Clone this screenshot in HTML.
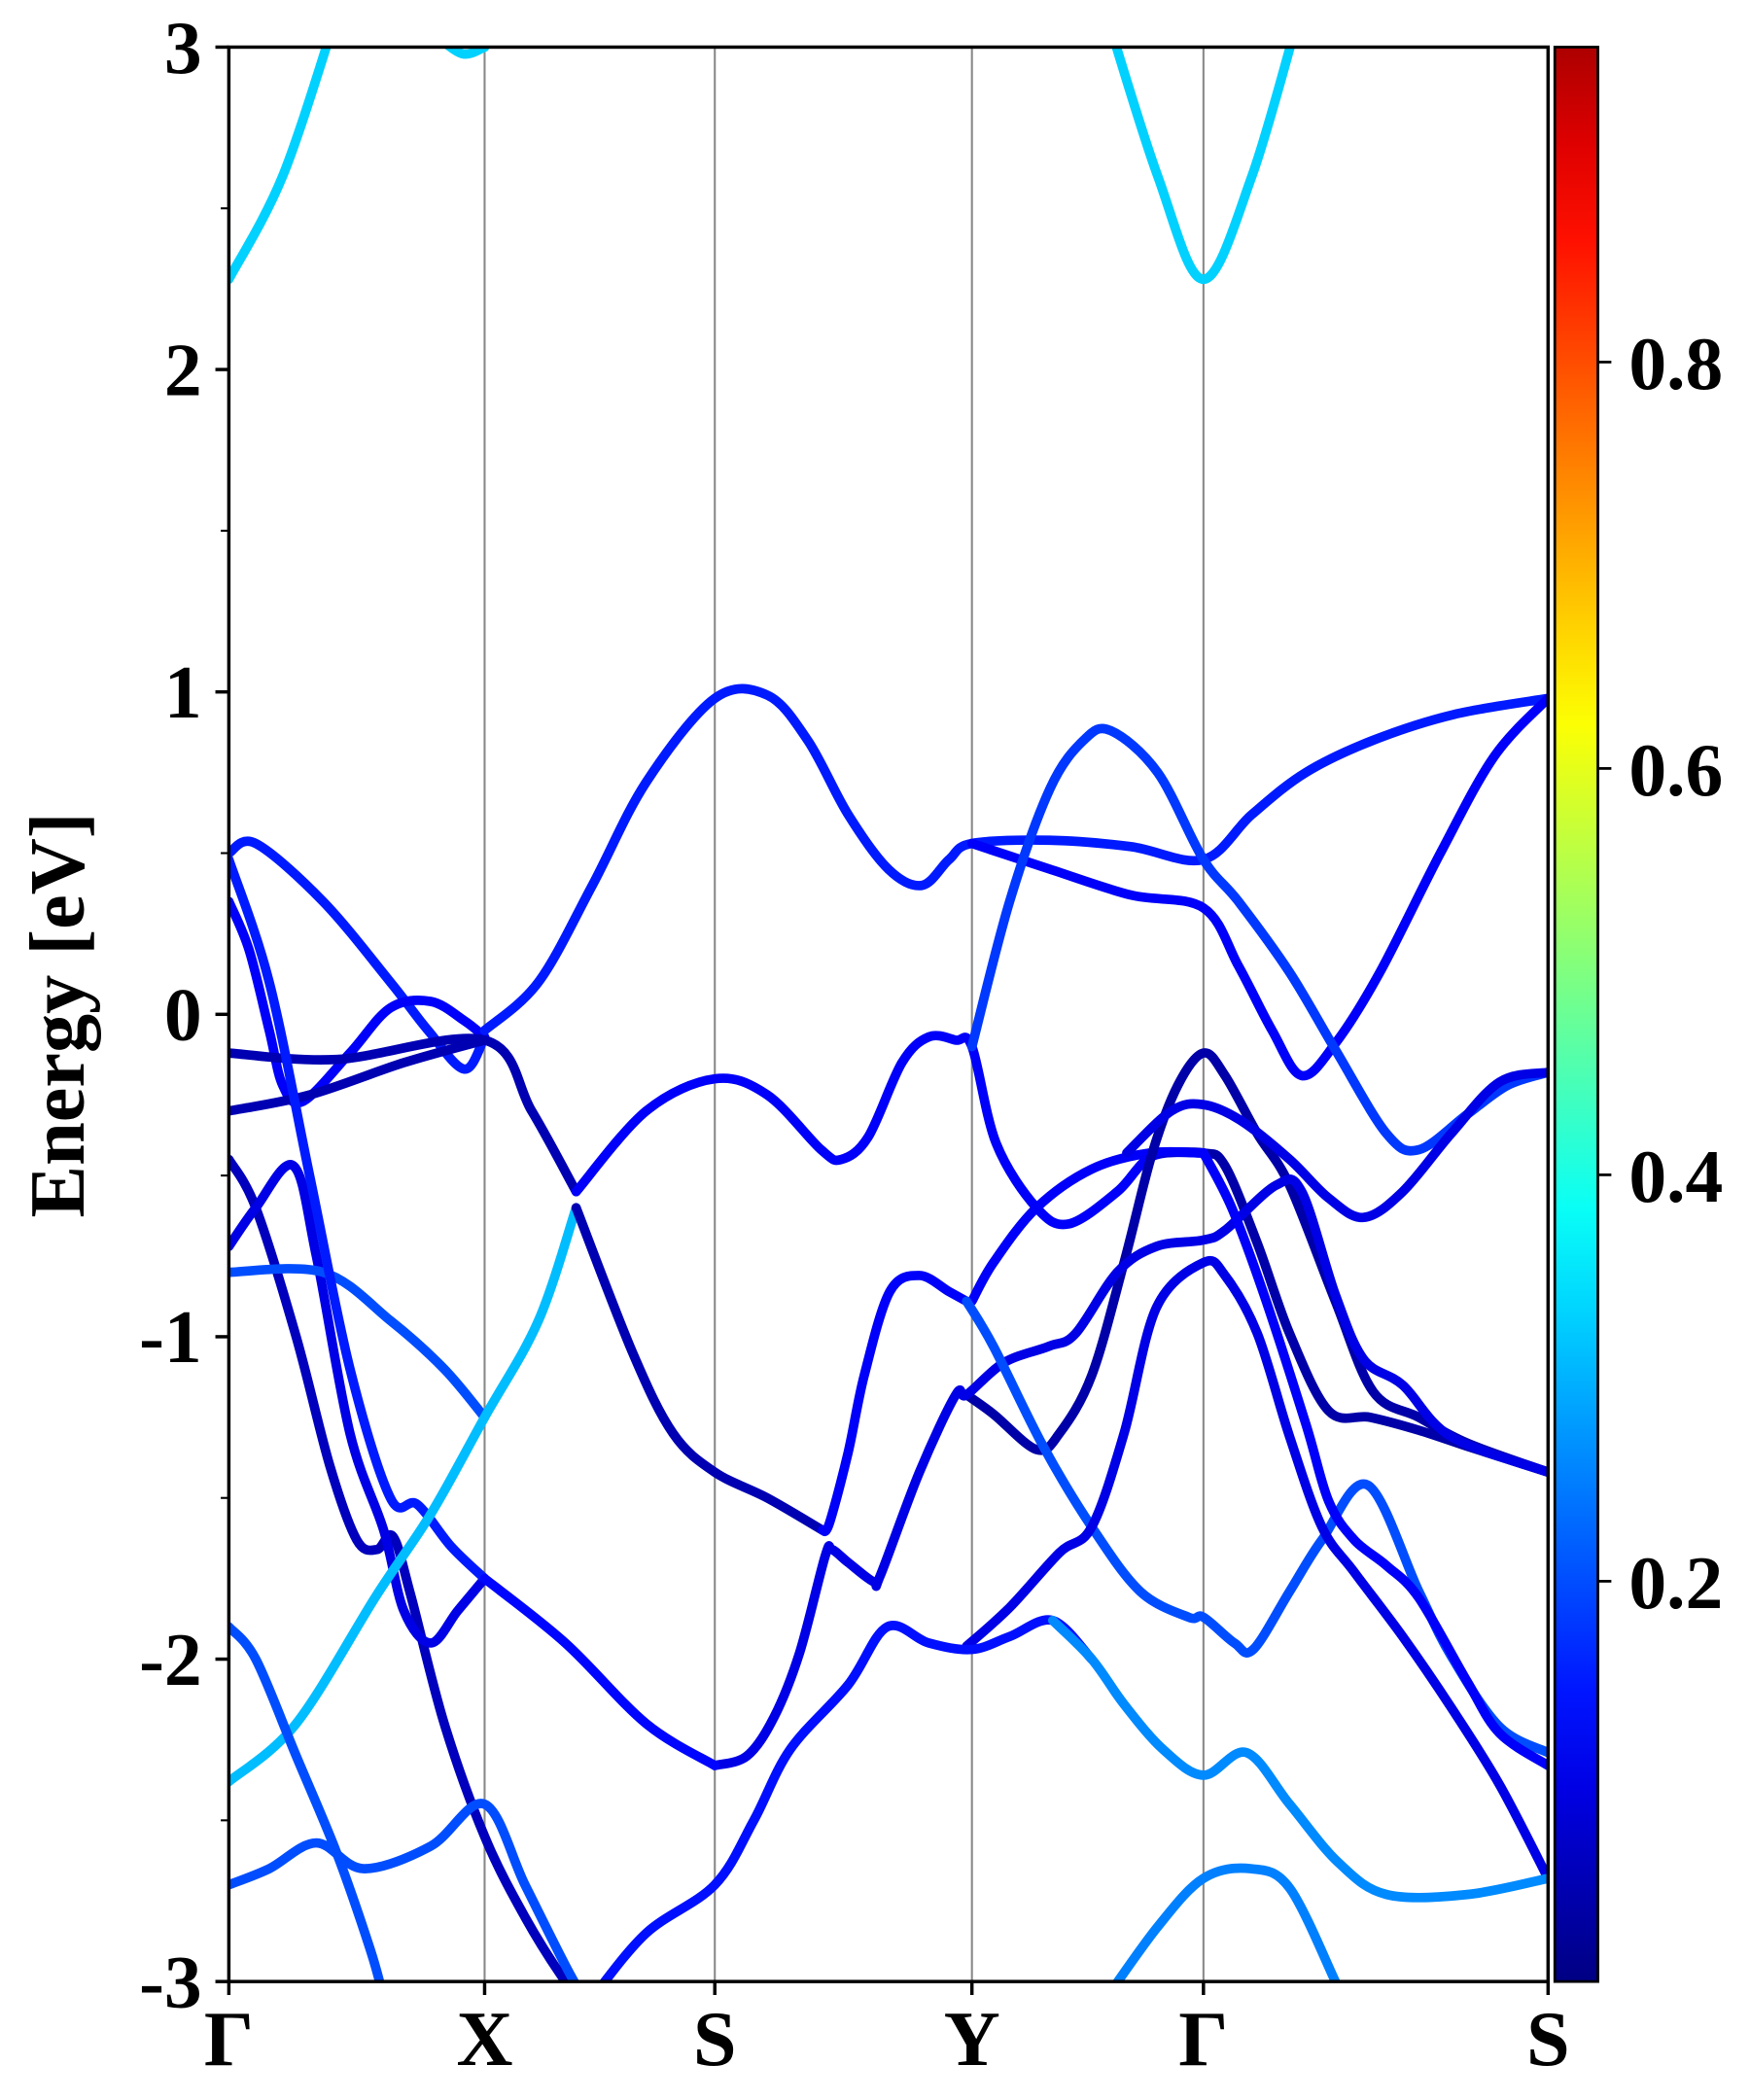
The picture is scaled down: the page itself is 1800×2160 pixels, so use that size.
<!DOCTYPE html>
<html><head><meta charset="utf-8"><style>
html,body{margin:0;padding:0;background:#fff;}
svg{display:block;}
text{font-family:"Liberation Serif",serif;font-weight:bold;fill:#000;}
</style></head><body>
<svg id="chart" width="1800" height="2160" viewBox="0 0 1300 1560" xmlns="http://www.w3.org/2000/svg">
<defs><linearGradient id="cbgrad" x1="0" y1="1" x2="0" y2="0"></linearGradient>
<clipPath id="plotclip"><rect x="170" y="35" width="980" height="1437"/></clipPath></defs>
<g id="grid"></g>
<g id="bands" clip-path="url(#plotclip)"></g>
<rect x="170" y="35" width="980" height="1437" fill="none" stroke="#000" stroke-width="2.5"/>
<g id="axes"></g>
<rect x="1155" y="35" width="32" height="1437" fill="url(#cbgrad)" stroke="#000" stroke-width="2"/>
<text transform="translate(62,754) rotate(-90)" text-anchor="middle" font-size="58">Energy [eV]</text>
</svg>
<script>
const kLabels=["Γ","X","S","Y","Γ","S"];
const kTicks=[0,190,361,552,724,980];
const eTicks=[-3,-2,-1,0,1,2,3];
const cbTicks=[0.2,0.4,0.6,0.8];
const bandValues=[0.15,0.12,0.05,0.05,0.06,0.1,0.2,0.15,0.31,0.2,0.2,0.05,
 0.15,0.12,0.12,0.18,0.04,0.12,0.04,0.1,0.1,0.12,0.2,0.1,0.12,0.14,0.26,0.25,0.13,
 0.33,0.33,0.33];
const bandK=[
[0,20,70,120,148,175,190],
[0,15,30,40,55,90,120,150,175,190],
[0,80,190,225,258],
[0,60,130,190],
[0,20,50,75,95,110,122,135,160,190,220,250,270],
[0,20,48,65,90,115,130,150,170,190],
[0,70,120,160,190],
[0,30,60,90,120,140,165,190],
[0,50,110,150,190,230,258],
[0,20,50,80,105,115],
[0,30,65,100,150,190,220,250,270],
[258,300,330,361,400,441],
[190,230,270,310,361,400,430,460,490,515,535,552,610,670,724,760,800,850,910,980],
[552,610,670,724,750,775,797,822,855,900,940,980],
[258,310,361,400,440,455,475,500,520,540,552,570,600,624,660,686,724],
[552,580,610,635,655,690,724,750,788,822,860,884,920,950,980],
[686,724,740,764,788,817,848,884,920,950,980],
[552,568,600,641,684,724],
[548,568,600,617,641,665,686,705,724,740,764,788,822,850,884,920,980],
[667,700,724,752,788,817,843,872,908,944,980],
[361,385,405,424,443,448,460,479,484,513,540,548,576,609,629,660,689,724,740,778,797,822,843,872,908,980],
[441,446,460,472,491,513,535,548],
[548,568,605,641,677,713,724,747,761,788,812,846,884,908,944,980],
[548,580,617,641,665,689,724,740,764,788,812,836,872,908,944,980],
[724,745,769,800,817,836,860,884,920,944,980],
[270,310,361,390,417,460,489,520,552,580,612,641],
[612,641,665,694,724,756,788,824,860,920,980],
[652,690,724,759,788,822],
[190,250,310,361],
[0,40,80],
[150,173,190],
[652,690,724,760,795]
];
const bandE=[
[0.5,0.53,0.35,0.1,-0.05,-0.17,-0.07],
[0.35,0.2,-0.05,-0.22,-0.27,-0.12,0.02,0.04,-0.02,-0.07],
[-0.12,-0.14,-0.08,-0.3,-0.55],
[-0.3,-0.25,-0.15,-0.08],
[-0.45,-0.6,-1.0,-1.4,-1.63,-1.66,-1.62,-1.8,-2.2,-2.55,-2.8,-3.0,-3.1],
[-0.72,-0.6,-0.47,-0.75,-1.3,-1.6,-1.85,-1.95,-1.85,-1.75],
[-0.8,-0.8,-0.95,-1.1,-1.25],
[0.48,0.1,-0.5,-1.1,-1.5,-1.52,-1.65,-1.75],
[-2.38,-2.2,-1.8,-1.55,-1.25,-0.95,-0.6],
[-1.9,-2.0,-2.3,-2.6,-2.9,-3.05],
[-2.7,-2.65,-2.57,-2.65,-2.58,-2.45,-2.7,-2.95,-3.1],
[-0.6,-1.05,-1.3,-1.42,-1.5,-1.6],
[-0.05,0.1,0.4,0.72,0.98,0.99,0.85,0.62,0.45,0.4,0.48,0.53,0.54,0.52,0.48,0.62,0.75,0.85,0.93,0.98],
[0.53,0.45,0.37,0.33,0.15,-0.05,-0.19,-0.09,0.13,0.5,0.8,0.98],
[-0.55,-0.3,-0.2,-0.25,-0.42,-0.45,-0.38,-0.15,-0.07,-0.08,-0.1,-0.4,-0.6,-0.65,-0.55,-0.44,-0.43],
[-0.1,0.35,0.7,0.85,0.88,0.75,0.48,0.35,0.13,-0.11,-0.37,-0.42,-0.31,-0.22,-0.18],
[-0.43,-0.43,-0.47,-0.71,-0.99,-1.23,-1.25,-1.29,-1.34,-1.38,-1.42],
[-0.89,-0.77,-0.6,-0.48,-0.43,-0.43],
[-1.18,-1.24,-1.35,-1.30,-1.12,-0.77,-0.43,-0.22,-0.12,-0.19,-0.37,-0.53,-0.89,-1.17,-1.25,-1.33,-1.42],
[-0.43,-0.3,-0.28,-0.33,-0.45,-0.57,-0.63,-0.55,-0.37,-0.21,-0.18],
[-2.33,-2.3,-2.18,-1.98,-1.68,-1.66,-1.70,-1.76,-1.74,-1.42,-1.18,-1.18,-1.08,-1.03,-0.99,-0.80,-0.72,-0.70,-0.67,-0.53,-0.55,-0.87,-1.07,-1.15,-1.31,-1.42],
[-1.60,-1.58,-1.36,-1.12,-0.86,-0.81,-0.86,-0.89],
[-0.89,-1.03,-1.34,-1.59,-1.79,-1.87,-1.87,-1.95,-1.97,-1.79,-1.63,-1.46,-1.79,-1.99,-2.21,-2.29],
[-1.96,-1.84,-1.67,-1.59,-1.30,-0.91,-0.77,-0.81,-0.99,-1.31,-1.59,-1.73,-1.93,-2.15,-2.39,-2.68],
[-0.43,-0.6,-0.87,-1.27,-1.51,-1.63,-1.71,-1.81,-2.07,-2.23,-2.33],
[-3.05,-2.85,-2.7,-2.5,-2.28,-2.08,-1.90,-1.95,-1.97,-1.93,-1.88,-2.0],
[-1.88,-2.0,-2.14,-2.28,-2.36,-2.29,-2.45,-2.63,-2.73,-2.73,-2.68],
[-3.05,-2.83,-2.68,-2.65,-2.71,-3.0],
[-1.75,-1.95,-2.2,-2.33],
[2.28,2.6,3.1],
[3.05,2.98,3.0],
[3.1,2.6,2.28,2.6,3.1]
];

const X0=170,W=980,Y0=35,H=1437,EMIN=-3,EMAX=3;
function xs(k){return X0+k/980*W;}
function ys(e){return Y0+(EMAX-e)/(EMAX-EMIN)*H;}
const CB0=0.003,CB1=0.955;
function cbY(v){return Y0+H-(v-CB0)/(CB1-CB0)*H;}
function jet(v){function c(x){return Math.round(255*Math.max(0,Math.min(1,x)));}
 const r=c(1.5-Math.abs(4*v-3)),g=c(1.5-Math.abs(4*v-2)),b=c(1.5-Math.abs(4*v-1));return "rgb("+r+","+g+","+b+")";}
const NS="http://www.w3.org/2000/svg";
function mk(t,a,p){const e=document.createElementNS(NS,t);for(const k in a)e.setAttribute(k,a[k]);p.appendChild(e);return e;}
const gr=document.getElementById('cbgrad');
for(let i=0;i<=20;i++){const f=i/20;const v=CB0+f*(CB1-CB0);mk('stop',{offset:f,'stop-color':jet(v)},gr);}
const grid=document.getElementById('grid');
kTicks.slice(1,5).forEach(function(k){const l=mk('line',{x1:xs(k),x2:xs(k),y1:Y0,y2:Y0+H,stroke:'#888','stroke-width':1.5},grid);

});
const bg=document.getElementById('bands');
function spline(pts){let d="M"+pts[0][0]+","+pts[0][1];
 for(let i=0;i<pts.length-1;i++){const p0=pts[Math.max(0,i-1)],p1=pts[i],p2=pts[i+1],p3=pts[Math.min(pts.length-1,i+2)];
 const t=1/6;d+=" C"+(p1[0]+(p2[0]-p0[0])*t)+","+(p1[1]+(p2[1]-p0[1])*t)+" "+(p2[0]-(p3[0]-p1[0])*t)+","+(p2[1]-(p3[1]-p1[1])*t)+" "+p2[0]+","+p2[1];}
 return d;}
for(let b=0;b<bandK.length;b++){const n=Math.min(bandK[b].length,bandE[b].length);const pts=[];
 for(let i=0;i<n;i++)pts.push([xs(bandK[b][i]),ys(bandE[b][i])]);
 const p=mk('path',{d:spline(pts),fill:'none',stroke:jet(bandValues[b]),'stroke-width':7,'stroke-linecap':'round','stroke-linejoin':'round'},bg);
 
 }
const ax=document.getElementById('axes');
eTicks.forEach(function(e){mk('line',{x1:X0,x2:X0-10,y1:ys(e),y2:ys(e),stroke:'#000','stroke-width':2.5},ax);
 const t=mk('text',{x:X0-20,y:ys(e)+19,'text-anchor':'end','font-size':56},ax);t.textContent=String(e);
 
 });
for(let e=-2.5;e<3;e+=1){mk('line',{x1:X0,x2:X0-6,y1:ys(e),y2:ys(e),stroke:'#000','stroke-width':1.5},ax);}
kTicks.forEach(function(k,i){mk('line',{x1:xs(k),x2:xs(k),y1:Y0+H,y2:Y0+H+10,stroke:'#000','stroke-width':2.5},ax);
 const t=mk('text',{x:xs(k),y:Y0+H+62,'text-anchor':'middle','font-size':58},ax);t.textContent=kLabels[i];
 
 });
cbTicks.forEach(function(v){mk('line',{x1:1187,x2:1197,y1:cbY(v),y2:cbY(v),stroke:'#000','stroke-width':2},ax);
 const t=mk('text',{x:1210,y:cbY(v)+20,'font-size':56},ax);t.textContent=v.toFixed(1);
 
 });
</script>
</body></html>
